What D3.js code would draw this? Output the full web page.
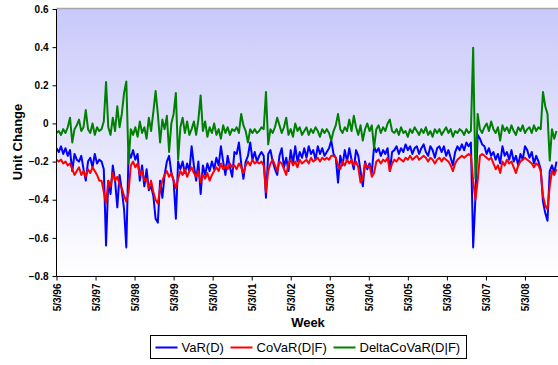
<!DOCTYPE html>
<html>
<head>
<meta charset="utf-8">
<script src="https://cdn.jsdelivr.net/npm/d3@7"></script>
<style>
  body { margin: 0; background: #fff; }
  svg { display: block; font-family: Arial, "Liberation Sans", sans-serif; }
  .tick text { font-weight: bold; font-size: 10px; fill: #000; }
  .axis path, .axis line { stroke: #000; }
</style>
</head>
<body>
<script>
var w = 558, h = 365;
var margin = {top: 9, left: 56.5, right: 558, bottom: 276};

// one sample every 3 weeks, starting 5/3/96
var weekStep = 3;
var totalWeeks = 668;

var tickLabels = ["5/3/96","5/3/97","5/3/98","5/3/99","5/3/00","5/3/01","5/3/02",
                  "5/3/03","5/3/04","5/3/05","5/3/06","5/3/07","5/3/08"];
var yTicks = [-0.8, -0.6, -0.4, -0.2, 0, 0.2, 0.4, 0.6];

var varD = [
  -0.13,-0.15,-0.12,-0.16,-0.13,-0.17,-0.14,-0.25,-0.16,-0.19,
  -0.20,-0.17,-0.24,-0.30,-0.20,-0.18,-0.23,-0.16,-0.21,-0.19,
  -0.20,-0.24,-0.64,-0.30,-0.37,-0.22,-0.30,-0.44,-0.27,-0.35,
  -0.45,-0.65,-0.15,-0.18,-0.14,-0.19,-0.16,-0.30,-0.22,-0.33,
  -0.24,-0.35,-0.33,-0.38,-0.50,-0.52,-0.30,-0.39,-0.27,-0.20,
  -0.17,-0.26,-0.30,-0.50,-0.20,-0.24,-0.20,-0.26,-0.21,-0.25,
  -0.12,-0.22,-0.30,-0.20,-0.37,-0.22,-0.27,-0.21,-0.25,-0.20,
  -0.24,-0.18,-0.22,-0.12,-0.20,-0.27,-0.17,-0.23,-0.28,-0.15,
  -0.16,-0.10,-0.21,-0.29,-0.20,-0.17,-0.10,-0.19,-0.15,-0.20,
  -0.17,-0.15,-0.17,-0.39,-0.16,-0.14,-0.20,-0.24,-0.27,-0.17,
  -0.13,-0.23,-0.18,-0.25,-0.14,-0.21,-0.12,-0.20,-0.15,-0.18,
  -0.13,-0.18,-0.12,-0.16,-0.14,-0.19,-0.12,-0.16,-0.13,-0.17,
  -0.15,-0.13,-0.09,-0.16,-0.18,-0.31,-0.17,-0.22,-0.14,-0.20,
  -0.13,-0.19,-0.24,-0.14,-0.17,-0.25,-0.33,-0.20,-0.24,-0.21,
  -0.26,-0.12,-0.15,-0.13,-0.17,-0.14,-0.16,-0.13,-0.25,-0.15,
  -0.14,-0.12,-0.16,-0.13,-0.15,-0.11,-0.14,-0.12,-0.16,-0.13,
  -0.12,-0.16,-0.13,-0.11,-0.15,-0.17,-0.12,-0.14,-0.18,-0.13,
  -0.12,-0.15,-0.12,-0.17,-0.14,-0.18,-0.22,-0.15,-0.12,-0.14,
  -0.11,-0.14,-0.10,-0.12,-0.10,-0.65,-0.39,-0.06,-0.08,-0.11,
  -0.12,-0.16,-0.13,-0.17,-0.15,-0.19,-0.16,-0.21,-0.12,-0.17,
  -0.15,-0.19,-0.14,-0.20,-0.17,-0.22,-0.16,-0.19,-0.12,-0.14,
  -0.18,-0.15,-0.21,-0.17,-0.20,-0.24,-0.41,-0.47,-0.51,-0.25,
  -0.22,-0.26,-0.20
];

var covarDF = [
  -0.19,-0.20,-0.19,-0.21,-0.20,-0.22,-0.21,-0.24,-0.27,-0.25,
  -0.23,-0.27,-0.25,-0.28,-0.24,-0.26,-0.23,-0.25,-0.27,-0.30,
  -0.30,-0.36,-0.42,-0.30,-0.33,-0.26,-0.30,-0.28,-0.32,-0.34,
  -0.38,-0.41,-0.36,-0.22,-0.20,-0.23,-0.21,-0.27,-0.25,-0.30,
  -0.29,-0.34,-0.30,-0.36,-0.40,-0.42,-0.34,-0.30,-0.27,-0.25,
  -0.28,-0.26,-0.30,-0.34,-0.29,-0.25,-0.27,-0.24,-0.28,-0.25,
  -0.23,-0.26,-0.28,-0.25,-0.31,-0.27,-0.29,-0.26,-0.30,-0.27,
  -0.25,-0.23,-0.25,-0.21,-0.24,-0.22,-0.24,-0.21,-0.23,-0.22,
  -0.24,-0.21,-0.23,-0.26,-0.22,-0.20,-0.22,-0.19,-0.21,-0.20,
  -0.21,-0.20,-0.22,-0.36,-0.25,-0.21,-0.19,-0.22,-0.25,-0.20,
  -0.21,-0.24,-0.27,-0.21,-0.19,-0.22,-0.20,-0.23,-0.19,-0.21,
  -0.20,-0.19,-0.21,-0.18,-0.20,-0.19,-0.18,-0.20,-0.18,-0.19,
  -0.18,-0.19,-0.17,-0.17,-0.18,-0.22,-0.24,-0.20,-0.22,-0.19,
  -0.21,-0.19,-0.22,-0.20,-0.23,-0.31,-0.29,-0.21,-0.23,-0.22,
  -0.28,-0.26,-0.20,-0.19,-0.21,-0.19,-0.20,-0.18,-0.25,-0.21,
  -0.19,-0.20,-0.18,-0.19,-0.20,-0.18,-0.19,-0.17,-0.19,-0.18,
  -0.17,-0.19,-0.18,-0.17,-0.18,-0.20,-0.18,-0.19,-0.21,-0.19,
  -0.18,-0.20,-0.18,-0.19,-0.20,-0.22,-0.25,-0.21,-0.19,-0.18,
  -0.17,-0.18,-0.17,-0.16,-0.17,-0.30,-0.40,-0.30,-0.17,-0.16,
  -0.17,-0.18,-0.19,-0.18,-0.21,-0.24,-0.22,-0.26,-0.20,-0.22,
  -0.19,-0.21,-0.20,-0.23,-0.26,-0.22,-0.20,-0.19,-0.18,-0.19,
  -0.20,-0.21,-0.23,-0.21,-0.22,-0.25,-0.38,-0.43,-0.45,-0.33,
  -0.25,-0.27,-0.24
];

var deltaCovarDF = [
  -0.05,-0.04,-0.06,-0.03,-0.05,-0.02,0.03,-0.10,-0.03,-0.01,
  0.02,-0.04,-0.02,0.07,-0.03,-0.05,0.00,-0.06,-0.02,-0.04,
  -0.03,0.01,0.217,-0.02,-0.06,0.03,-0.04,0.09,-0.02,0.05,
  0.16,0.22,-0.21,-0.03,-0.06,-0.02,-0.07,0.01,-0.05,-0.02,
  -0.08,0.03,-0.04,0.06,0.17,0.05,-0.10,0.02,-0.03,0.04,
  -0.15,0.00,0.05,0.16,-0.19,-0.02,0.03,-0.05,0.01,-0.06,
  -0.03,0.01,-0.06,0.02,0.147,-0.04,0.01,-0.07,-0.02,-0.05,
  0.00,-0.06,-0.03,-0.08,-0.01,-0.05,-0.02,-0.06,-0.03,-0.04,
  -0.02,-0.05,0.05,-0.01,-0.04,-0.10,-0.03,-0.05,-0.03,-0.05,
  -0.04,-0.02,-0.03,0.165,-0.11,-0.03,-0.05,-0.02,0.03,-0.01,
  -0.05,-0.02,0.03,-0.06,-0.03,-0.07,0.00,-0.04,-0.02,-0.06,
  -0.04,-0.02,-0.06,-0.03,-0.05,-0.02,-0.04,-0.07,-0.03,-0.05,
  -0.03,-0.05,-0.09,-0.04,-0.01,0.05,-0.03,-0.05,-0.02,-0.04,
  0.02,-0.04,0.04,-0.02,-0.06,-0.01,-0.09,-0.03,0.00,-0.04,
  -0.01,-0.13,-0.03,-0.01,-0.05,-0.02,-0.04,0.00,0.02,-0.04,
  -0.05,-0.03,-0.06,-0.02,-0.05,-0.04,-0.07,-0.03,-0.05,-0.02,
  -0.04,-0.06,-0.03,-0.05,-0.02,-0.06,-0.04,-0.07,-0.03,-0.05,
  -0.03,-0.06,-0.04,-0.02,-0.05,-0.03,-0.07,-0.04,-0.05,-0.03,
  -0.04,-0.06,-0.03,-0.05,-0.04,0.397,-0.29,0.05,-0.03,-0.05,
  -0.02,0.00,-0.04,0.01,-0.03,-0.05,-0.02,-0.09,-0.01,-0.04,
  -0.02,-0.05,-0.01,-0.04,-0.06,-0.02,-0.04,-0.01,-0.05,-0.03,
  -0.02,-0.05,-0.01,-0.04,-0.02,-0.03,0.165,0.09,0.05,-0.195,
  -0.03,-0.08,-0.04
];

var seriesNames = ["VaR(D)", "CoVaR(D|F)", "DeltaCoVaR(D|F)"];
var seriesColors = ["#0000ff", "#ff0000", "#008000"];
var seriesData = [varD, covarDF, deltaCovarDF];

var svg = d3.select("body").append("svg")
    .attr("width", w)
    .attr("height", h);

var x = d3.scaleLinear().domain([0, totalWeeks]).range([margin.left, margin.right]);
var y = d3.scaleLinear().domain([-0.8, 0.6]).range([margin.bottom, margin.top]);

// plot background gradient
var grad = svg.append("defs").append("linearGradient")
    .attr("id", "bg")
    .attr("x1", 0).attr("y1", 0).attr("x2", 0).attr("y2", 1);
grad.append("stop").attr("offset", "0%").attr("stop-color", "#c9c9fb");
grad.append("stop").attr("offset", "100%").attr("stop-color", "#ffffff");

svg.select("defs").append("clipPath").attr("id", "clip")
  .append("rect")
    .attr("x", margin.left).attr("y", margin.top - 1)
    .attr("width", w - margin.left).attr("height", margin.bottom - margin.top + 1);

svg.append("rect")
    .attr("x", margin.left)
    .attr("y", margin.top)
    .attr("width", w - margin.left + 2)
    .attr("height", margin.bottom - margin.top)
    .attr("fill", "url(#bg)");

// top border
svg.append("line")
    .attr("x1", margin.left).attr("x2", w)
    .attr("y1", margin.top - 0.5).attr("y2", margin.top - 0.5)
    .attr("stroke", "#a6a6a6")
    .attr("stroke-width", 1.5);

// lines
var line = d3.line()
    .x(function(d, i) { return x(i * weekStep); })
    .y(function(d) { return y(d); });

var plot = svg.append("g").attr("clip-path", "url(#clip)");
seriesData.forEach(function(s, k) {
  plot.append("path")
      .datum(s)
      .attr("fill", "none")
      .attr("stroke", seriesColors[k])
      .attr("stroke-width", 2)
      .attr("stroke-linejoin", "round")
      .attr("d", line);
});

// y axis
svg.append("g")
    .attr("class", "axis")
    .attr("transform", "translate(" + margin.left + ",0)")
    .call(d3.axisLeft(y).tickValues(yTicks).tickSize(4).tickPadding(4)
      .tickFormat(function(d) { return d3.format("")(+d.toFixed(1)); }))
    .call(function(g) { g.select(".domain").attr("d", "M0," + margin.top + "V" + (margin.bottom + 0.5)); });

// x axis
var xAxis = svg.append("g")
    .attr("class", "axis")
    .attr("transform", "translate(0," + (margin.bottom + 0.5) + ")")
    .call(d3.axisBottom(x).tickValues(d3.range(tickLabels.length).map(function(i) { return i * 52; }))
      .tickSize(4).tickSizeOuter(0)
      .tickFormat(function(d, i) { return tickLabels[i]; }));
xAxis.select(".domain").attr("d", "M" + margin.left + ",0H" + w);
xAxis.selectAll(".tick text")
    .attr("transform", "rotate(-90)")
    .attr("text-anchor", "end")
    .attr("x", -7)
    .attr("y", 0)
    .attr("dy", "0.35em");

// axis titles
svg.append("text")
    .attr("transform", "translate(22,142) rotate(-90)")
    .attr("text-anchor", "middle")
    .style("font-weight", "bold")
    .style("font-size", "13px")
    .text("Unit Change");

svg.append("text")
    .attr("x", 308)
    .attr("y", 327)
    .attr("text-anchor", "middle")
    .style("font-weight", "bold")
    .style("font-size", "13px")
    .text("Week");

// legend
var legend = svg.append("g").attr("transform", "translate(150.5,335.5)");
legend.append("rect")
    .attr("width", 316).attr("height", 23)
    .attr("fill", "#fff")
    .attr("stroke", "#000");

var legendX = [5, 80, 183];
seriesNames.forEach(function(name, k) {
  var item = legend.append("g").attr("transform", "translate(" + legendX[k] + ",12)");
  item.append("line")
      .attr("x1", 0).attr("x2", 22)
      .attr("stroke", seriesColors[k])
      .attr("stroke-width", 2);
  item.append("text")
      .attr("x", 26)
      .attr("dy", "0.35em")
      .style("font-size", "13px")
      .text(name);
});
</script>
</body>
</html>
